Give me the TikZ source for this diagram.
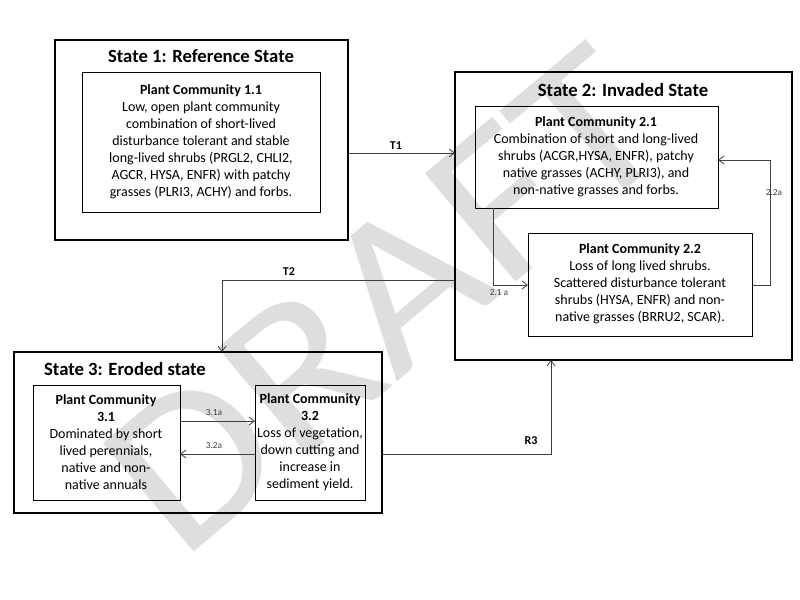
\documentclass[tikz,border=0pt]{standalone}
\usepackage{fontspec}
\setmainfont{Carlito}
\usetikzlibrary{arrows.meta}
\begin{document}
\begin{tikzpicture}[x=0.75pt,y=-0.75pt,
 state/.style={draw,line width=1.6pt},
 pc/.style={draw,line width=0.5pt},
 ln/.style={draw=black!75,line width=0.6pt},
 arr/.style={ln,-{Straight Barb[length=4pt,width=6pt]}},
 ttl/.style={font=\bfseries\fontsize{14}{16}\selectfont},
 txt/.style={align=center,font=\fontsize{10.5}{12.8}\selectfont},
 lab/.style={font=\fontsize{7}{8}\selectfont,text=black!75},
 blab/.style={font=\bfseries\fontsize{9}{10}\selectfont}]
\useasboundingbox (0,0) rectangle (800,600);
\fill[white] (0,0) rectangle (800,600);
% watermark
\node[rotate=40,text=black!13,font=\fontsize{165}{165}\selectfont,xscale=1.1] (wm) at (385,300) {DRAFT};
% boxes
\draw[state] (55,40) rectangle (348,240);
\node[ttl] (t1) at (201,56) {State 1: Reference State};
\draw[pc] (82,72) rectangle (320,212);
\node[txt] (p11) at (201,142) {\textbf{Plant Community 1.1}\\Low, open plant community\\combination of short-lived\\disturbance tolerant and stable\\long-lived shrubs (PRGL2, CHLI2,\\AGCR, HYSA, ENFR) with patchy\\grasses (PLRI3, ACHY) and forbs.};
\draw[state] (455,72) rectangle (792,360);
\node[ttl] (t2) at (623,90) {State 2: Invaded State};
\draw[pc] (475,106) rectangle (718,208);
\node[txt] (p21) at (596,157) {\textbf{Plant Community 2.1}\\Combination of short and long-lived\\shrubs (ACGR,HYSA, ENFR), patchy\\native grasses (ACHY, PLRI3), and\\non-native grasses and forbs.};
\draw[pc] (528,233) rectangle (752,336);
\node[txt] (p22) at (640,284) {\textbf{Plant Community 2.2}\\Loss of long lived shrubs.\\Scattered disturbance tolerant\\shrubs (HYSA, ENFR) and non-\\native grasses (BRRU2, SCAR).};
\draw[state] (14,352) rectangle (382,513);
\node[ttl] (t3) at (125,369) {State 3: Eroded state};
\draw[pc] (33,385) rectangle (180,500);
\node[txt] (p31) at (106,442) {\textbf{Plant Community}\\\textbf{3.1}\\Dominated by short\\lived perennials,\\native and non-\\native annuals};
\draw[pc] (255,385) rectangle (365,500);
\node[txt] (p32) at (310,442) {\textbf{Plant Community}\\\textbf{3.2}\\Loss of vegetation,\\down cutting and\\increase in\\sediment yield.};
% connectors
\coordinate (a1) at (348,153); \coordinate (b1) at (455,153);
\draw[arr] (a1) -- (b1);
\node[blab] (lt1) at (396,146) {T1};
\coordinate (a2) at (455,280); \coordinate (c2) at (222,280); \coordinate (b2) at (222,352);
\draw[arr] (a2) -- (c2) -- (b2);
\node[blab] (lt2) at (289,272) {T2};
\coordinate (a3) at (493,208); \coordinate (c3) at (493,285); \coordinate (b3) at (528,285);
\draw[arr] (a3) -- (c3) -- (b3);
\node[lab] (l21) at (499,293) {2.1 a};
\coordinate (a4) at (752,285); \coordinate (c4) at (770,285); \coordinate (d4) at (770,160); \coordinate (b4) at (718,160);
\draw[arr] (a4) -- (c4) -- (d4) -- (b4);
\node[lab] (l22) at (774,193) {2.2a};
\coordinate (a5) at (180,421); \coordinate (b5) at (255,421);
\draw[arr] (a5) -- (b5);
\node[lab] (l31) at (214,413) {3.1a};
\coordinate (a6) at (255,454); \coordinate (b6) at (180,454);
\draw[arr] (a6) -- (b6);
\node[lab] (l32) at (214,446) {3.2a};
\coordinate (a7) at (382,454); \coordinate (c7) at (551,454); \coordinate (b7) at (551,360);
\draw[arr] (a7) -- (c7) -- (b7);
\node[blab] (lr3) at (531,441) {R3};
\end{tikzpicture}
\end{document}
